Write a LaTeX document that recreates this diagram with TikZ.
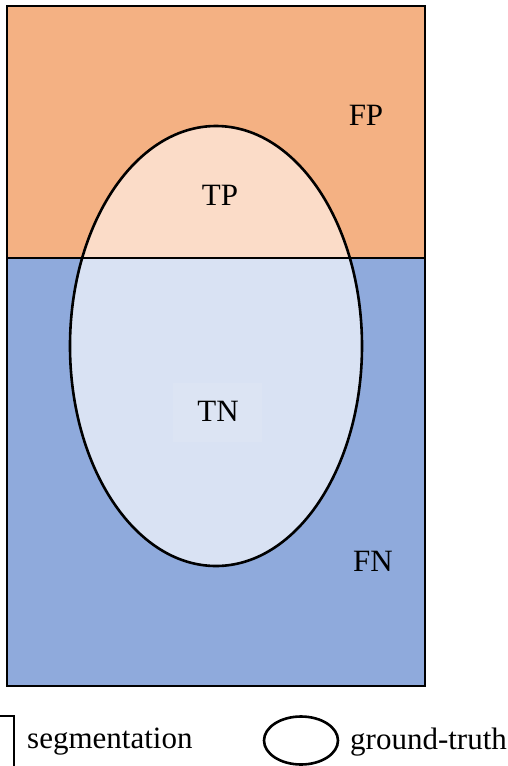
\documentclass[tikz,border=0pt]{standalone}
\usepackage{fontspec}
\setmainfont{Liberation Serif}
\newfontfamily\lserif{Liberation Serif}
\definecolor{fporange}{HTML}{F4B183}
\definecolor{tplight}{HTML}{FBDCC8}
\definecolor{fnblue}{HTML}{8FAADC}
\definecolor{tnlight}{HTML}{D9E2F3}
\definecolor{tnbox}{HTML}{DCE4F3}
\tikzset{
  outline/.style={draw=black, line width=2.6pt},
  lbl/.style={font=\lserif\fontsize{31}{36}\selectfont, inner sep=0pt},
}
\begin{document}
\begin{tikzpicture}[x=1pt,y=-1pt]
\useasboundingbox (0,0) rectangle (508,766);
\clip (0,0) rectangle (508,766);
% regions
\fill[fporange] (7,6) rectangle (425,258);
\fill[fnblue] (7,258) rectangle (425,686);
\begin{scope}
  \clip (7,6) rectangle (425,258);
  \fill[tplight] (216,346) ellipse [x radius=146pt, y radius=220pt];
\end{scope}
\begin{scope}
  \clip (7,258) rectangle (425,686);
  \fill[tnlight] (216,346) ellipse [x radius=146pt, y radius=220pt];
\end{scope}
\fill[tnbox] (173,383) rectangle (262,442);
% outlines
\draw[line width=2.4pt] (7,258) -- (425,258);
\draw[outline] (216,346) ellipse [x radius=146pt, y radius=220pt];
\draw[outline] (7,6) rectangle (425,686);
% labels
\node[lbl] (fp) at (366,115) {FP};
\node[lbl] (tp) at (220,195) {TP};
\node[lbl] (tn) at (218,411) {TN};
\node[lbl] (fn) at (373,561) {FN};
% legend
\draw[outline] (-20,716) rectangle (14,800);
\node[lbl, anchor=west] (seg) at (27,742) {segmentation};
\draw[outline] (301,740.5) ellipse [x radius=37pt, y radius=24pt];
\node[lbl, anchor=west] (gt) at (350,742) {ground-truth};
\end{tikzpicture}
\end{document}
